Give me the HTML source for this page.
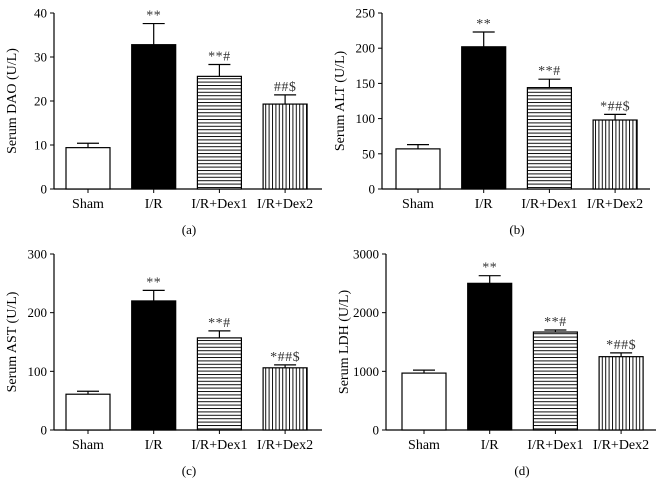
<!DOCTYPE html>
<html><head><meta charset="utf-8"><style>
html,body{margin:0;padding:0;background:#fff}
svg{display:block;font-family:"Liberation Serif",serif}
</style></head><body>
<svg id="chart" width="664" height="497" viewBox="0 0 664 497">
<defs>
<pattern id="hstripe" width="4" height="3.4" patternUnits="userSpaceOnUse"><rect width="4" height="3.4" fill="#fff"/><line x1="0" y1="0.5" x2="4" y2="0.5" stroke="#111" stroke-width="1"/></pattern>
<pattern id="vstripe" width="3.4" height="4" patternUnits="userSpaceOnUse"><rect width="3.4" height="4" fill="#fff"/><line x1="0.5" y1="0" x2="0.5" y2="4" stroke="#111" stroke-width="1"/></pattern>
</defs>
</svg>
<script>
const categories = ["Sham","I/R","I/R+Dex1","I/R+Dex2"];
const daoValues = [9.4, 32.8, 25.6, 19.3];
const daoErrors = [1.0, 4.8, 2.7, 2.1];
const daoMarks = ["", "**", "**#", "##$"];
const daoTicks = [0,10,20,30,40];
const altValues = [57, 202, 144, 98];
const altErrors = [6, 21, 12, 8];
const altMarks = ["", "**", "**#", "*##$"];
const altTicks = [0,50,100,150,200,250];
const astValues = [61, 220, 157, 106];
const astErrors = [5, 18, 12, 5];
const astMarks = ["", "**", "**#", "*##$"];
const astTicks = [0,100,200,300];
const ldhValues = [970, 2500, 1670, 1250];
const ldhErrors = [50, 130, 35, 65];
const ldhMarks = ["", "**", "**#", "*##$"];
const ldhTicks = [0,1000,2000,3000];

const NS = "http://www.w3.org/2000/svg";
const svg = document.getElementById('chart');
function mk(tag, attrs, parent, text){
  const e = document.createElementNS(NS, tag);
  for (const k in attrs) e.setAttribute(k, attrs[k]);
  if (text !== undefined) e.textContent = text;
  parent.appendChild(e);
  return e;
}
const fills = ["#fff","#000","url(#hstripe)","url(#vstripe)"];
function panel(key, ox, oy, top, xEnd, barStart, values, errors, marks, ticks, title, letter){
  const g = mk('g', {}, svg);
  
  
  const max = ticks[ticks.length-1];
  const y = v => oy - (v/max)*(oy-top);
  const bw = 44, step = 65.7;
  const ya = mk('line', {x1:ox,y1:top,x2:ox,y2:oy,stroke:'#000','stroke-width':1.2}, g);
  
  
  const xa = mk('line', {x1:ox,y1:oy,x2:xEnd,y2:oy,stroke:'#000','stroke-width':1.2}, g);
  
  
  ticks.forEach(t => {
    mk('line', {x1:ox-4,y1:y(t),x2:ox,y2:y(t),stroke:'#000','stroke-width':1}, g);
    const tl = mk('text', {x:ox-7,y:y(t)+4.5,'text-anchor':'end','font-size':13}, g, String(t));
    
    
  });
  const yt = mk('text', {x:0,y:0,'text-anchor':'middle','font-size':14,transform:`translate(${ox-38},${(top+oy)/2}) rotate(-90)`}, g, title);
  
  
  values.forEach((v,i) => {
    const x0 = barStart + i*step, cx = x0 + bw/2;
    const eTop = y(v + errors[i]);
    mk('line', {x1:cx,y1:y(v),x2:cx,y2:eTop,stroke:'#000','stroke-width':1.2}, g);
    mk('line', {x1:cx-11,y1:eTop,x2:cx+11,y2:eTop,stroke:'#000','stroke-width':1.2}, g);
    const b = mk('rect', {x:x0,y:y(v),width:bw,height:oy-y(v),fill:fills[i],stroke:'#000','stroke-width':1.2}, g);
    
    
    mk('line', {x1:cx,y1:oy,x2:cx,y2:oy+4,stroke:'#000','stroke-width':1}, g);
    const cl = mk('text', {x:cx,y:oy+19,'text-anchor':'middle','font-size':14}, g, categories[i]);
    
    
    if (marks[i]) {
      const m = mk('text', {x:cx,y:eTop-4,'text-anchor':'middle','font-size':14,fill:'#333','letter-spacing':'0.5'}, g, marks[i]);
      
      
    }
  });
  const pl = mk('text', {x:(ox+xEnd)/2+1,y:oy+45,'text-anchor':'middle','font-size':13}, g, letter);
  
  
}
panel('dao', 54, 189, 13, 322, 66, daoValues, daoErrors, daoMarks, daoTicks, 'Serum DAO (U/L)', '(a)');
panel('alt', 382, 189, 13, 650, 396, altValues, altErrors, altMarks, altTicks, 'Serum ALT (U/L)', '(b)');
panel('ast', 54, 430, 254, 322, 66, astValues, astErrors, astMarks, astTicks, 'Serum AST (U/L)', '(c)');
panel('ldh', 386, 430, 254, 656, 402, ldhValues, ldhErrors, ldhMarks, ldhTicks, 'Serum LDH (U/L)', '(d)');
</script>
</body></html>
